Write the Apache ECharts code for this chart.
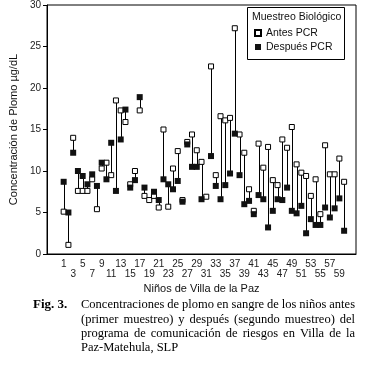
<!DOCTYPE html>
<html>
<head>
<meta charset="utf-8">
<script src="https://cdn.jsdelivr.net/npm/echarts@6.0.0/dist/echarts.min.js"></script>
<style>
  html, body { margin: 0; padding: 0; background: #fff; }
  #chart { width: 365px; height: 367px; }
</style>
</head>
<body>
<div id="chart"></div>
<script>
// lead in blood (ug/dL) for each child, before and after the program
var ninos = [];
for (var n = 1; n <= 60; n++) ninos.push(String(n));

var antesPCR = [5.1, 1.1, 14.0, 7.6, 7.6, 7.6, 9.0, 5.4, 10.3, 11.0,
  9.5, 18.5, 17.3, 15.9, 8.4, 10.0, 17.3, 7.0, 6.5, 7.0,
  5.6, 15.0, 5.7, 10.3, 12.4, 6.5, 13.5, 14.4, 12.5, 11.1,
  6.9, 22.6, 9.5, 16.6, 16.1, 16.4, 27.2, 14.4, 12.2, 7.8,
  5.2, 13.3, 10.4, 12.9, 8.9, 8.3, 13.8, 12.8, 15.3, 10.8,
  9.8, 9.4, 7.0, 9.0, 4.8, 13.1, 9.6, 9.6, 11.5, 8.7];

var despuesPCR = [8.7, 5.0, 12.2, 10.0, 9.4, 8.4, 9.6, 8.2, 11.0, 9.0,
  13.4, 7.6, 13.8, 17.4, 8.0, 8.9, 18.9, 8.0, null, 7.5,
  6.5, 9.0, 8.4, 7.8, 8.8, 6.3, 13.2, 10.5, 10.5, 6.6,
  null, 11.8, 8.2, 6.6, 8.3, 9.7, 14.5, 9.5, 6.0, 6.4,
  4.8, 7.1, 6.6, 3.2, 5.2, 6.6, 6.5, 8.0, 5.2, 4.9,
  5.8, 2.5, 4.2, 3.5, 3.5, 5.6, 4.4, 5.5, 6.7, 2.8];

var yTicks = [0, 5, 10, 15, 20, 25, 30];

var captionFig = 'Fig. 3.';
var captionLines = [
  'Concentraciones de plomo en sangre de los niños antes',
  '(primer muestreo) y después (segundo muestreo) del',
  'programa de comunicación de riesgos en Villa de la',
  'Paz-Matehula, SLP'
];

// empty slots on both sides of the axis, like the original plot
var padLeft = 3, padRight = 2;
var cats = [];
for (var i = 0; i < padLeft; i++) cats.push('L' + i);
cats = cats.concat(ninos);
for (var i = 0; i < padRight; i++) cats.push('R' + i);

function padded(arr) {
  var out = [];
  for (var i = 0; i < padLeft; i++) out.push(null);
  out = out.concat(arr);
  for (var i = 0; i < padRight; i++) out.push(null);
  return out;
}

var pairs = [];
for (var i = 0; i < ninos.length; i++) {
  if (antesPCR[i] != null && despuesPCR[i] != null) {
    pairs.push([i + padLeft, antesPCR[i], despuesPCR[i]]);
  }
}

var sans = '"Liberation Sans", Arial, sans-serif';
var serif = '"Liberation Serif", "Times New Roman", serif';

// caption, justified like in the paper
var capSize = 12.5;
var capFont = capSize + 'px ' + serif;
var capX = 81, capW = 274, capY0 = 305, capStep = 14.3;
var ctx = document.createElement('canvas').getContext('2d');
function measure(t, f) { ctx.font = f; return ctx.measureText(t).width; }

var graphics = [];
captionLines.forEach(function(line, li) {
  var words = line.split(' ');
  var widths = words.map(function(w) { return measure(w, capFont); });
  var sum = widths.reduce(function(a, b) { return a + b; }, 0);
  var gap = measure(' ', capFont);
  if (li < captionLines.length - 1 && words.length > 1) {
    gap = (capW - sum) / (words.length - 1);
  }
  var x = capX;
  words.forEach(function(w, wi) {
    graphics.push({
      type: 'text', x: x, y: capY0 + li * capStep,
      style: { text: w, font: capFont, fill: '#000', verticalAlign: 'middle' }
    });
    x += widths[wi] + gap;
  });
});
graphics.push({
  type: 'text', x: 33, y: capY0,
  style: { text: captionFig, font: 'bold 13px ' + serif, fill: '#000', verticalAlign: 'middle' }
});
// legend frame + title
graphics.push({
  type: 'rect', shape: { x: 247.5, y: 7.5, width: 97, height: 52 },
  style: { fill: '#fff', stroke: '#000', lineWidth: 1 }, z: 5
});
graphics.push({
  type: 'text', x: 252, y: 17,
  style: { text: 'Muestreo Biológico', font: '10.5px ' + sans, fill: '#111', verticalAlign: 'middle' }, z: 6
});

var chart = echarts.init(document.getElementById('chart'));
var option = {
  animation: false,
  grid: { left: 42, top: 4, width: 314, height: 250, show: true, borderColor: '#000', borderWidth: 1 },
  legend: {
    data: ['Antes PCR', 'Después PCR'],
    orient: 'vertical', left: 254, top: 27, z: 10,
    itemWidth: 6, itemHeight: 6, itemGap: 2, padding: 0,
    textStyle: { fontFamily: sans, fontSize: 10.5, color: '#111', lineHeight: 12 }
  },
  xAxis: {
    type: 'category', data: cats, boundaryGap: true,
    name: 'Niños de Villa de la Paz', nameLocation: 'middle', nameGap: 29,
    nameTextStyle: { fontFamily: sans, fontSize: 11, color: '#111', verticalAlign: 'top' },
    axisLine: { lineStyle: { color: '#000', width: 1 } },
    axisTick: {
      alignWithLabel: true, length: 4, lineStyle: { color: '#000' },
      interval: function(idx) { return idx >= padLeft && idx < padLeft + ninos.length; }
    },
    axisLabel: {
      interval: 0, margin: 5, fontFamily: sans, fontSize: 10, lineHeight: 10, color: '#222',
      formatter: function(v) {
        var k = Number(v);
        if (isNaN(k) || k % 2 == 0) return '';
        return k % 4 == 1 ? String(k) : '\n' + k;
      }
    },
    splitLine: { show: false }
  },
  yAxis: {
    type: 'value', min: yTicks[0], max: yTicks[yTicks.length - 1], interval: 5,
    name: 'Concentración de Plomo µg/dL', nameLocation: 'middle', nameGap: 23,
    nameTextStyle: { fontFamily: sans, fontSize: 11, color: '#111' },
    axisLine: { show: true, lineStyle: { color: '#000', width: 1 } },
    axisTick: { show: true, length: 4, lineStyle: { color: '#000' } },
    axisLabel: { margin: 6, fontFamily: sans, fontSize: 10, color: '#222' },
    splitLine: { show: false }
  },
  series: [
    {
      type: 'custom', name: 'enlace', data: pairs,
      encode: { x: 0, y: [1, 2] },
      renderItem: function(params, api) {
        var p1 = api.coord([api.value(0), api.value(1)]);
        var p2 = api.coord([api.value(0), api.value(2)]);
        return {
          type: 'line',
          shape: { x1: Math.round(p1[0]) + 0.5, y1: p1[1], x2: Math.round(p2[0]) + 0.5, y2: p2[1] },
          style: { stroke: '#000', lineWidth: 1 }
        };
      },
      z: 1
    },
    {
      type: 'scatter', name: 'Antes PCR', data: padded(antesPCR),
      symbol: 'rect', symbolSize: 5,
      itemStyle: { color: '#fff', borderColor: '#000', borderWidth: 1, opacity: 1 },
      z: 2
    },
    {
      type: 'scatter', name: 'Después PCR', data: padded(despuesPCR),
      symbol: 'rect', symbolSize: 6,
      itemStyle: { color: '#111', opacity: 1 },
      z: 3
    }
  ],
  graphic: graphics
};
chart.setOption(option);
</script>
</body>
</html>
